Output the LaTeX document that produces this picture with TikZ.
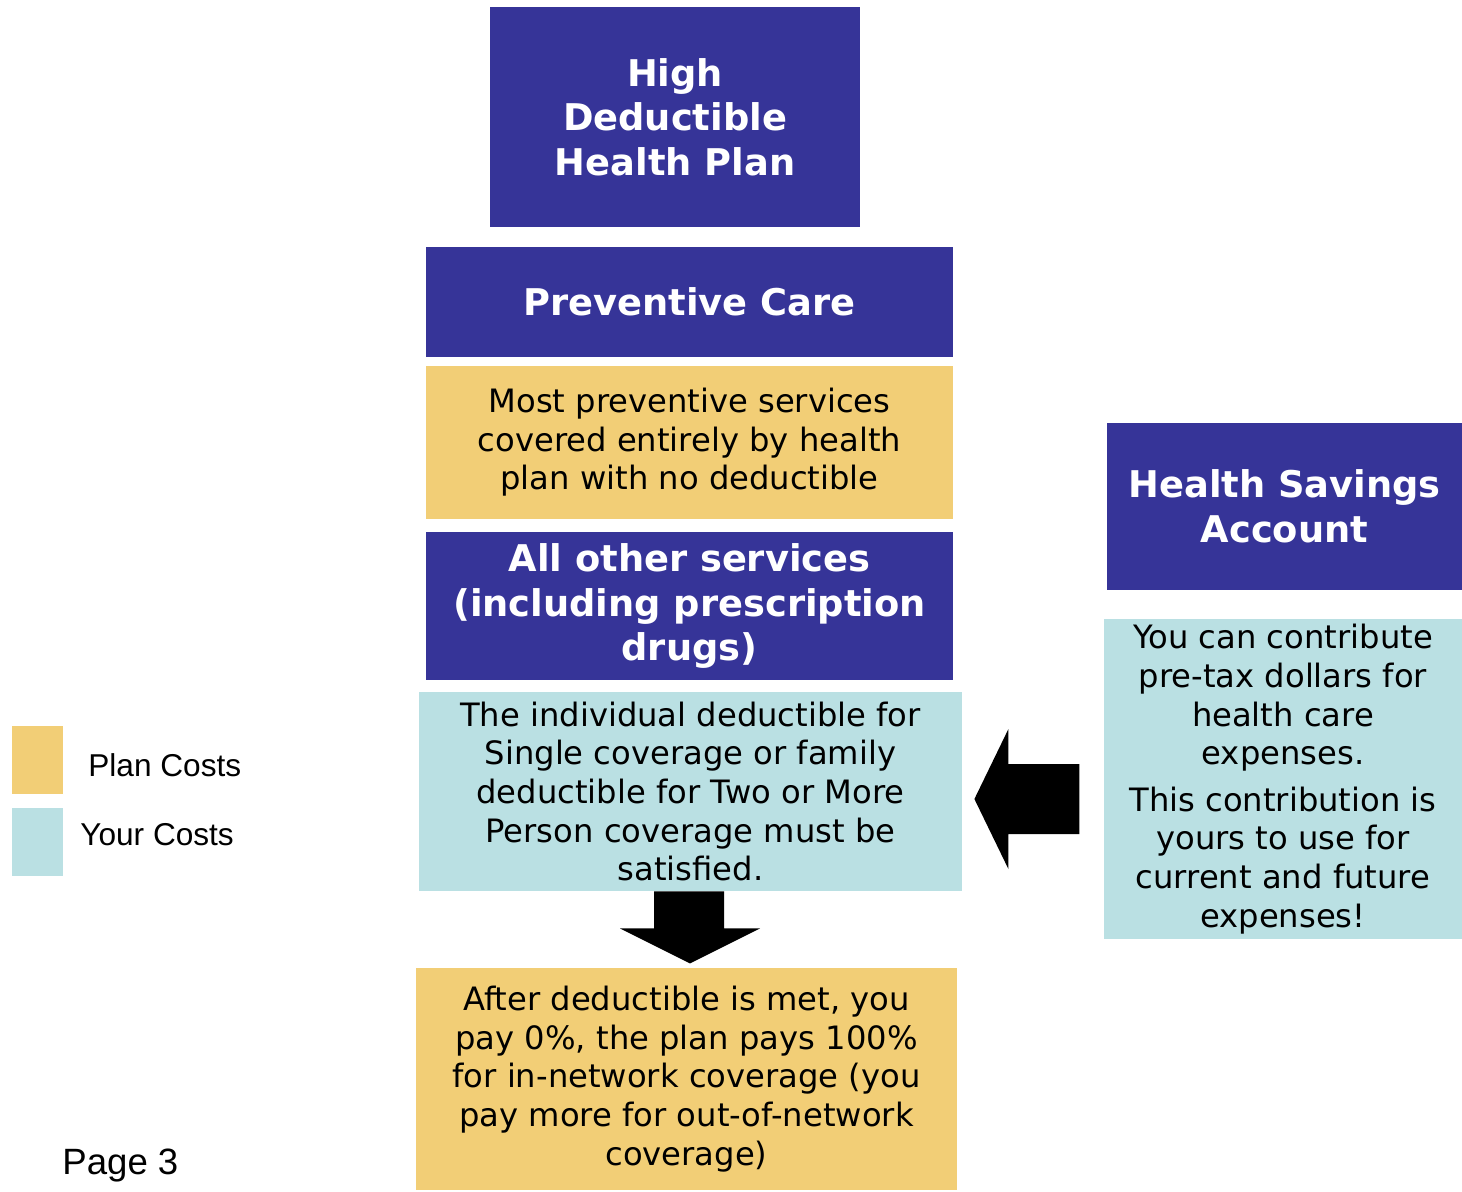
\documentclass[tikz,border=0pt]{standalone}
\usepackage{fontspec}
\setmainfont{DejaVu Sans}
\newfontfamily\arialfont{Liberation Sans}
\usetikzlibrary{calc}
\definecolor{PlanNavy}{RGB}{54,52,152}
\definecolor{PlanGold}{RGB}{242,206,118}
\definecolor{CostBlue}{RGB}{186,224,227}
\tikzstyle{TitleBox}=[rectangle, fill=PlanNavy, text=white, inner sep=0pt, align=center, font=\fontsize{18.4pt}{22.3pt}\selectfont\bfseries]
\tikzstyle{PlanBox}=[rectangle, fill=PlanGold, text=black, inner sep=0pt, align=center, font=\fontsize{16.1pt}{19.3pt}\selectfont]
\tikzstyle{CostBox}=[PlanBox, fill=CostBlue]
\tikzstyle{LegendKey}=[rectangle, inner sep=0pt, minimum width=25.5pt, minimum height=34pt]
\tikzstyle{LegendText}=[anchor=west, inner sep=0pt, font=\arialfont\fontsize{15.8pt}{19pt}\selectfont]
\tikzstyle{BlockArrow}=[fill=black]

\begin{document}
\begin{tikzpicture}[x=0.5pt, y=-0.5pt]
\useasboundingbox (0,0) rectangle (1462,1191);
\node[TitleBox, minimum width=185pt, minimum height=110pt](hdhp) at (675,117) {High\\Deductible\\Health Plan};
\node[TitleBox, minimum width=263.5pt, minimum height=55pt](prev) at (689.5,302) {Preventive Care};
\node[PlanBox, minimum width=263.5pt, minimum height=76.5pt](prevtxt) at (689.5,442.5) {Most preventive services\\covered entirely by health\\plan with no deductible};
\node[TitleBox, minimum width=263.5pt, minimum height=74pt](other) at (689.5,606) {All other services\\(including prescription\\drugs)};
\node[CostBox, minimum width=271.5pt, minimum height=99.5pt](indiv) at (690.5,791.5) {The individual deductible for\\Single coverage or family\\deductible for Two or More\\Person coverage must be\\satisfied.};
\node[PlanBox, minimum width=270.5pt, minimum height=111pt](after) at (686.5,1079) {After deductible is met, you\\pay 0\%, the plan pays 100\%\\for in-network coverage (you\\pay more for out-of-network\\coverage)};
\node[TitleBox, minimum width=177.5pt, minimum height=83.5pt](hsa) at (1284.5,506.5) {Health Savings\\Account};
\node[CostBox, minimum width=179pt, minimum height=160pt](hsatxt) at (1283,779) {You can contribute\\pre-tax dollars for\\health care\\expenses.\\[4pt]This contribution is\\yours to use for\\current and future\\expenses!};

\node[LegendKey, fill=PlanGold](plankey) at (37.5,760) {};
\node[LegendKey, fill=CostBlue](costkey) at (37.5,842) {};
\node[LegendText](plantext) at (88,765) {Plan Costs};
\node[LegendText](costtext) at (80,835) {Your Costs};
\node[LegendText, font=\arialfont\fontsize{18.3pt}{22pt}\selectfont](page) at (62,1165) {Page 3};

% block arrows
\fill[BlockArrow] ($(indiv.south)+(-36.5,0)$) -- ++(0,37) -- ++(-34,0) -- ++(70,35) -- ++(70,-35) -- ++(-36,0) -- ++(0,-37) -- cycle;
\fill[BlockArrow] ($(indiv.east)+(12,7.5)$) -- ++(34,-70) -- ++(0,35) -- ++(71,0) -- ++(0,70) -- ++(-71,0) -- ++(0,35) -- cycle;
\end{tikzpicture}
\end{document}
